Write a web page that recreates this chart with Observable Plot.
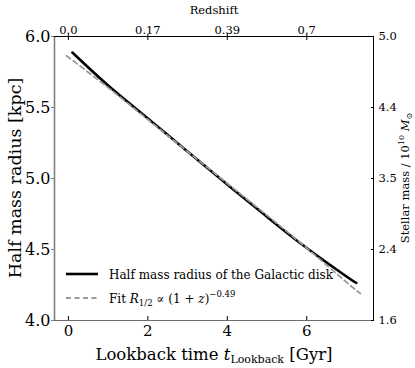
<!DOCTYPE html>
<html><head><meta charset="utf-8">
<script src="https://cdn.jsdelivr.net/npm/d3@7"></script>
<script src="https://cdn.jsdelivr.net/npm/@observablehq/plot@0.6"></script>
<style>body{margin:0;background:#fff}</style>
</head><body><div id="chart"></div>
<script>
const lookbackTime = [0.1, 1, 2, 3, 4, 5, 6, 7, 7.25];
const halfMassRadius = [5.887, 5.655, 5.423, 5.19, 4.957, 4.73, 4.51, 4.31, 4.265];
const fitTime = [-0.05, 1, 2, 3, 4, 5, 6, 7, 7.35];
const fitRadius = [5.865, 5.64, 5.415, 5.19, 4.965, 4.74, 4.51, 4.27, 4.19];
const xTicks = [0, 2, 4, 6];
const yTicks = [4.0, 4.5, 5.0, 5.5, 6.0];
const redshiftLabels = ["0.0", "0.17", "0.39", "0.7"];
const stellarMassLabels = ["1.6", "2.4", "3.5", "4.4", "5.0"];
const xDomain = [-0.35, 7.68];
const yDomain = [4.0, 6.0];

const disk = lookbackTime.map((t, i) => ({t, r: halfMassRadius[i]}));
const fit = fitTime.map((t, i) => ({t, r: fitRadius[i]}));
const FONT = "DejaVu Serif";

const plot = Plot.plot({
  width: 415, height: 368,
  marginLeft: 54, marginRight: 42, marginTop: 36, marginBottom: 48,
  style: {fontFamily: FONT, background: "white", color: "black"},
  x: {domain: xDomain},
  y: {domain: yDomain},
  marks: [
    Plot.line(disk, {x: "t", y: "r", stroke: "black", strokeWidth: 2.6, curve: "natural"}),
    Plot.line(fit, {x: "t", y: "r", stroke: "#9a9a9a", strokeWidth: 1.8, strokeDasharray: "5,3.5", curve: "natural"}),
    Plot.ruleY([yDomain[0]], {stroke: "#6e6e6e", strokeWidth: 1.2}),
    Plot.ruleX([xDomain[0]], {stroke: "#808080", strokeWidth: 1.6}),
    Plot.ruleY([yDomain[1]], {stroke: "black", strokeWidth: 1}),
    Plot.ruleX([xDomain[1]], {stroke: "black", strokeWidth: 1}),
    Plot.axisY({anchor: "left", ticks: yTicks, tickFormat: d3.format(".1f"), tickSize: 3, tickPadding: 1, fontSize: 16, label: null, stroke: "#808080"}),
    Plot.axisY({anchor: "right", ticks: yTicks, tickFormat: (d, i) => stellarMassLabels[i], tickSize: 3, dx: -3, tickPadding: 5, fontSize: 11.5, label: null}),
    Plot.axisX({anchor: "bottom", ticks: xTicks, tickSize: 4, dy: -4, tickFormat: () => "", label: null}),
    Plot.axisX({anchor: "bottom", ticks: xTicks, tickSize: 0, tickPadding: 5, fontSize: 15, label: null}),
    Plot.axisX({anchor: "top", ticks: xTicks, tickSize: 6, dy: 3, tickPadding: 0, tickFormat: (d, i) => redshiftLabels[i], fontSize: 11.5, label: null})
  ]
});
document.getElementById("chart").appendChild(plot);

const svg = d3.select(plot);
const addText = (sel) => sel.attr("font-family", FONT).attr("fill", "black").attr("stroke", "none");
// axis titles
const bx = addText(svg.append("text")).attr("x", 214).attr("y", 360).attr("text-anchor", "middle").attr("font-size", 16.5);
bx.append("tspan").text("Lookback time ");
bx.append("tspan").attr("font-style", "italic").text("t");
bx.append("tspan").attr("font-size", 11).attr("dy", 3).text("Lookback");
bx.append("tspan").attr("dy", -3).text(" [Gyr]");

addText(svg.append("text")).attr("transform", "translate(21,178) rotate(-90)").attr("text-anchor", "middle")
  .attr("font-size", 17.5).text("Half mass radius [kpc]");

const ry = addText(svg.append("text")).attr("transform", "translate(409,178) rotate(-90)").attr("text-anchor", "middle").attr("font-size", 11.5);
ry.append("tspan").text("Stellar mass / 10");
ry.append("tspan").attr("font-size", 8).attr("dy", -5).text("10");
ry.append("tspan").attr("dy", 5).text(" ");
ry.append("tspan").attr("font-style", "italic").text("M");
ry.append("tspan").attr("font-size", 8).attr("dy", 3).text("⊙");

addText(svg.append("text")).attr("x", 214).attr("y", 14).attr("text-anchor", "middle").attr("font-size", 11.5).text("Redshift");

// legend
svg.append("line").attr("x1", 66).attr("x2", 98).attr("y1", 274).attr("y2", 274).attr("stroke", "black").attr("stroke-width", 2.6);
svg.append("line").attr("x1", 66).attr("x2", 98).attr("y1", 298).attr("y2", 298).attr("stroke", "#9a9a9a").attr("stroke-width", 1.8).attr("stroke-dasharray", "5,3.5");
addText(svg.append("text")).attr("x", 109).attr("y", 279).attr("text-anchor", "start").attr("font-size", 12)
  .text("Half mass radius of the Galactic disk");
const lg = addText(svg.append("text")).attr("x", 109).attr("y", 303).attr("text-anchor", "start").attr("font-size", 12);
lg.append("tspan").text("Fit ");
lg.append("tspan").attr("font-style", "italic").text("R");
lg.append("tspan").attr("font-size", 8.5).attr("dy", 3).text("1/2");
lg.append("tspan").attr("dy", -3).text(" ∝ (1 + ");
lg.append("tspan").attr("font-style", "italic").text("z");
lg.append("tspan").text(")");
lg.append("tspan").attr("font-size", 8.5).attr("dy", -6).text("−0.49");
</script></body></html>
